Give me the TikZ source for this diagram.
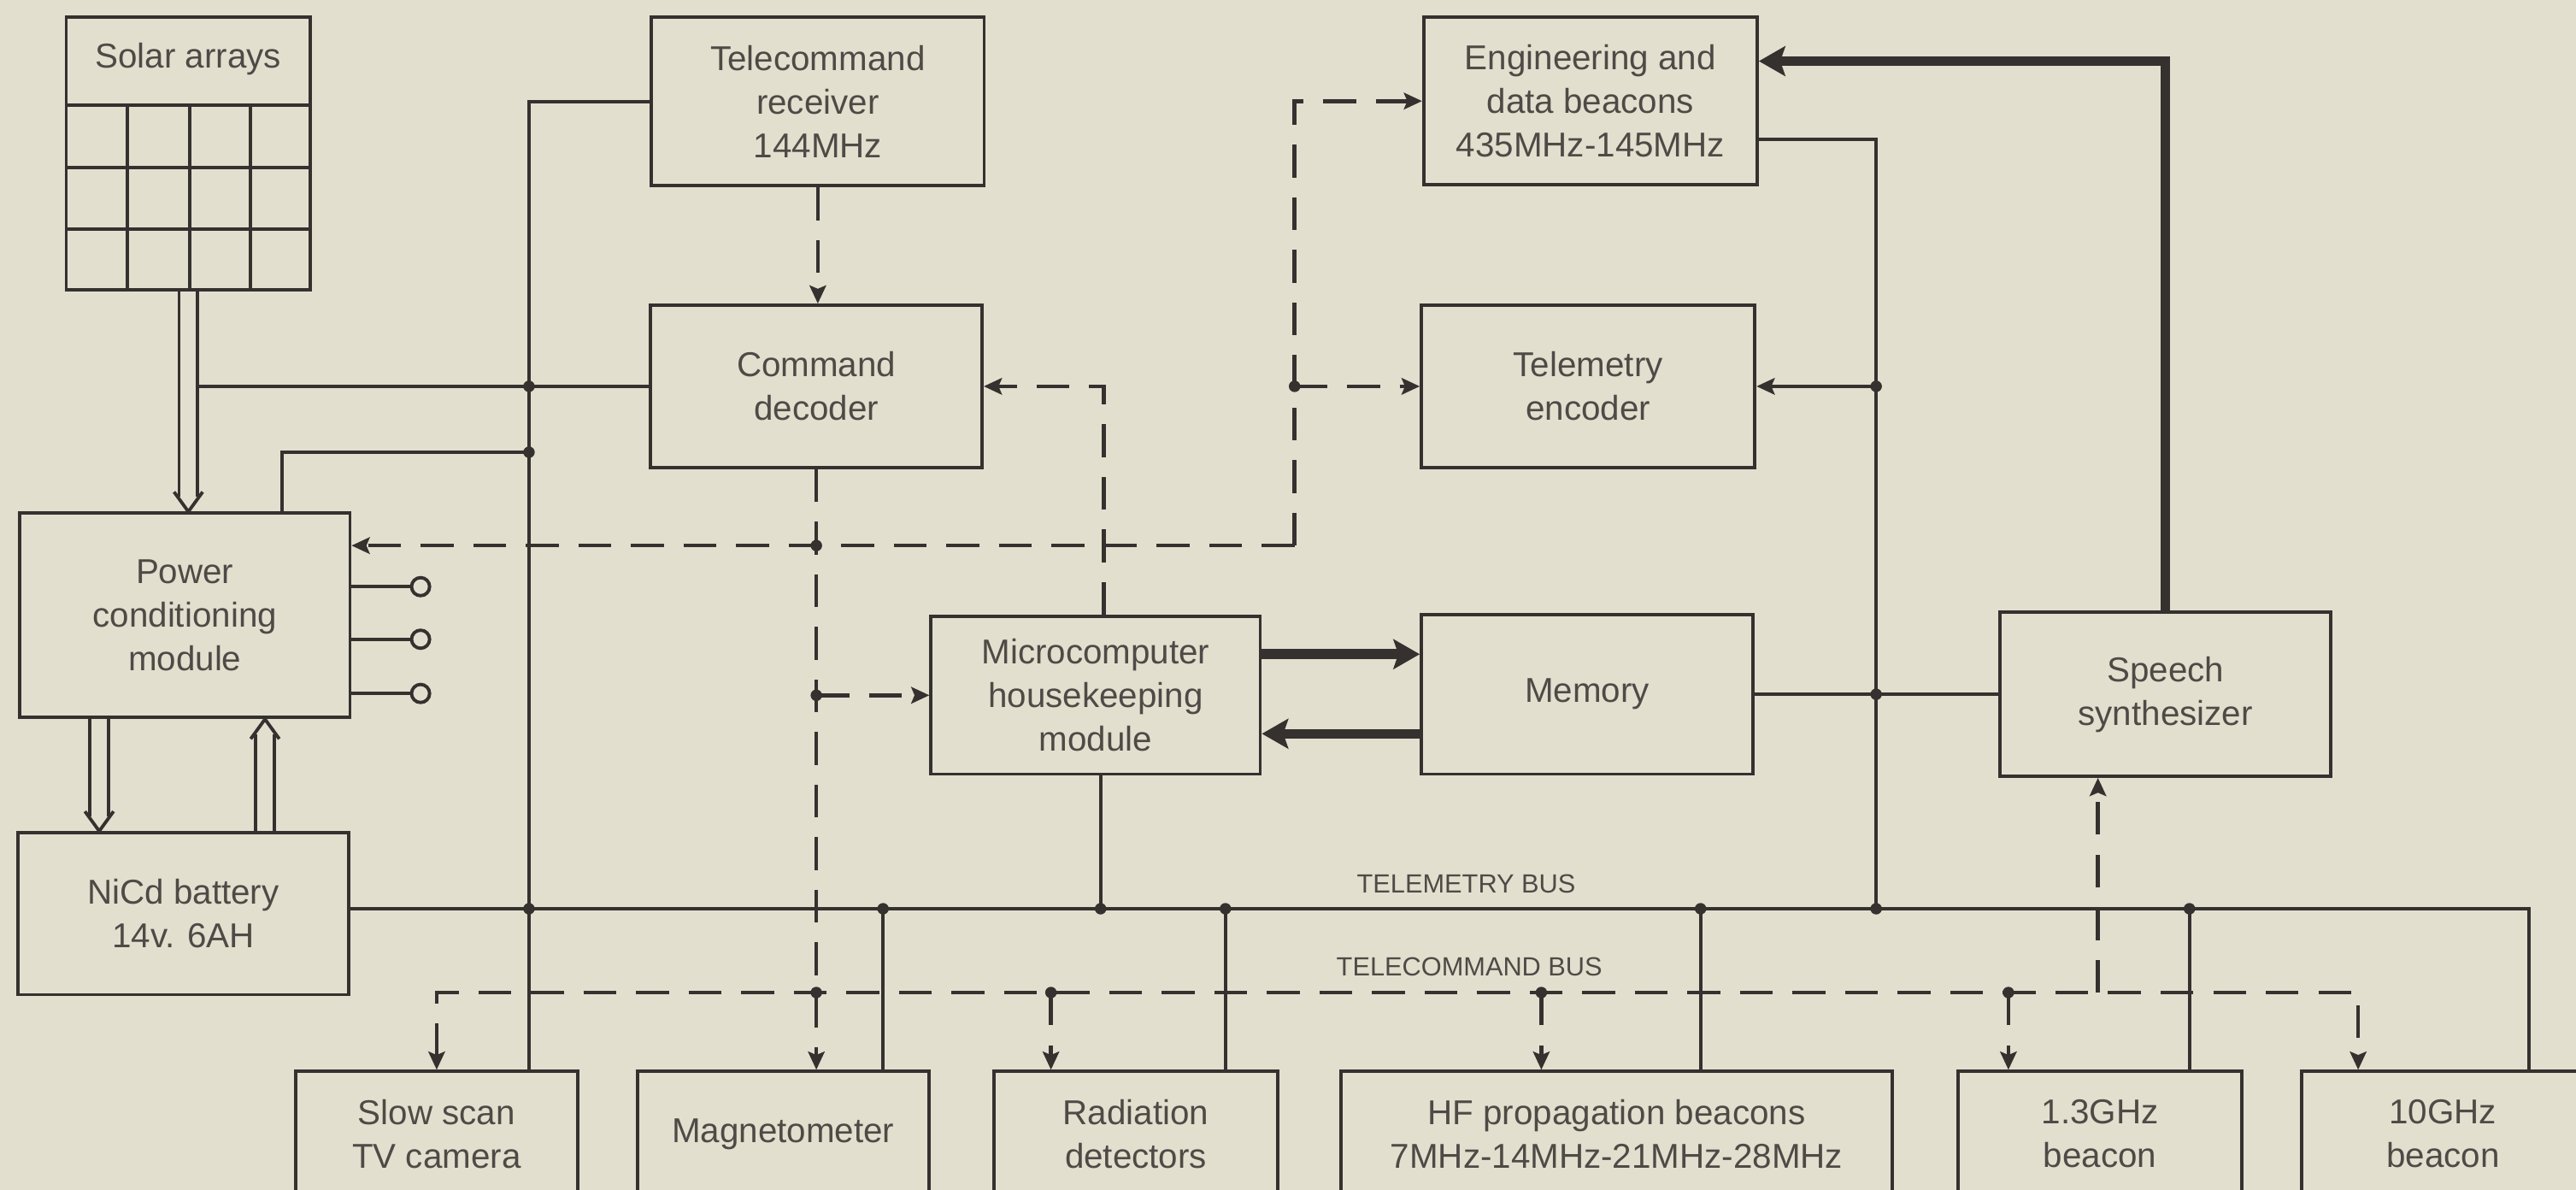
\documentclass[tikz,border=0pt]{standalone}
\usepackage{fontspec}
\setmainfont{Liberation Sans}
\usetikzlibrary{arrows.meta,calc}
\definecolor{bg}{RGB}{227,223,207}
\definecolor{lc}{RGB}{52,49,47}
\definecolor{tc}{RGB}{78,75,70}
\begin{document}
\begin{tikzpicture}[x=1pt,y=-1pt,
  box/.style={draw=lc, line width=2pt, fill=bg, inner sep=0pt, align=center, text=tc,
    font=\fontsize{21}{26.5}\selectfont},
  lowbox/.style={box, minimum height=76pt},
  wire/.style={draw=lc, line width=2.2pt},
  cmd/.style={draw=lc, line width=2.4pt, dash pattern=on 20pt off 12pt},
  heavy/.style={draw=lc, line width=6pt},
  sarrow/.style={-{Stealth[length=11pt,width=10pt,inset=2pt]}},
  harrow/.style={-{Stealth[length=16pt,width=18pt,inset=3pt]}},
  hollowshaft/.style={draw=lc, line width=2pt, double=bg, double distance=9.4pt},
  hollowhead/.style={draw=lc, line width=2pt, line join=round},
  jdot/.style={circle, fill=lc, inner sep=0pt, minimum size=7pt},
  terminal/.style={circle, draw=lc, line width=2pt, fill=bg, inner sep=0pt, minimum size=11pt},
  buslabel/.style={text=tc, font=\fontsize{16}{19}\selectfont}
]
\path[use as bounding box] (0,0) rectangle (1568,724);
\clip (0,0) rectangle (1568,724);
\fill[bg] (0,0) rectangle (1568,724);

% ---------- boxes ----------
\node[box, minimum width=148.7pt, minimum height=166pt] (solar) at (114.65,93.5) {};
\node[text=tc, font=\fontsize{21}{26.5}\selectfont] (solartitle) at (114.65,36) {Solar arrays};
\draw[draw=lc, line width=2pt] (40.3,63.9) -- (189,63.9) (40.3,102) -- (189,102) (40.3,139.3) -- (189,139.3)
  (77.7,63.9) -- (77.7,176.5) (115.5,63.9) -- (115.5,176.5) (152.5,63.9) -- (152.5,176.5);

\node[box, minimum width=201pt, minimum height=124.3pt] (power) at (112.5,374.5) {Power\\conditioning\\module};
\node[box, minimum width=201pt, minimum height=98.5pt] (nicd) at (111.6,556) {NiCd battery\\14v. 6AH};
\node[box, minimum width=202.5pt, minimum height=102.6pt] (receiver) at (497.8,61.8) {Telecommand\\receiver\\144MHz};
\node[box, minimum width=201.8pt, minimum height=98.7pt] (decoder) at (496.9,235.1) {Command\\decoder};
\node[box, minimum width=203pt, minimum height=102pt] (engineering) at (968.1,61.5) {Engineering and\\data beacons\\435MHz-145MHz};
\node[box, minimum width=203pt, minimum height=98.7pt] (encoder) at (966.7,235.1) {Telemetry\\encoder};
\node[box, minimum width=200.4pt, minimum height=96pt] (micro) at (666.9,423.1) {Microcomputer\\housekeeping\\module};
\node[box, minimum width=201.8pt, minimum height=97.2pt] (memory) at (966.1,422.5) {Memory};
\node[box, minimum width=201.5pt, minimum height=99.7pt] (speech) at (1318.1,422.5) {Speech\\synthesizer};

\node[lowbox, minimum width=171.7pt] (slow) at (265.8,690) {Slow scan\\TV camera};
\node[lowbox, minimum width=177.4pt] (magneto) at (476.7,690) {Magnetometer};
\node[lowbox, minimum width=172.5pt] (radiation) at (691.4,690) {Radiation\\detectors};
\node[lowbox, minimum width=335.8pt] (hf) at (984,690) {HF propagation beacons\\7MHz-14MHz-21MHz-28MHz};
\node[lowbox, minimum width=172.4pt] (ghz13) at (1278.2,690) {1.3GHz\\beacon};
\node[lowbox, minimum width=172pt] (ghz10) at (1487,690) {10GHz\\beacon};

\node[buslabel] (tmlabel) at (892.5,538) {TELEMETRY BUS};
\node[buslabel] (tclabel) at (894.4,588.5) {TELECOMMAND BUS};

% ---------- coordinates ----------
\coordinate (V) at (322,0);
\coordinate (sb) at (120.3,0);
\coordinate (j2) at (322,275.2);
\coordinate (B) at (0,553);
\coordinate (busR) at (1539.3,553);
\coordinate (tm) at (537.5,553);
\coordinate (tr) at (745.9,553);
\coordinate (th) at (1035.1,553);
\coordinate (tg) at (1332.7,553);
\coordinate (tv) at (1142,553);
\coordinate (mb) at ($(micro.south)+(3,0)$);
\coordinate (mt) at ($(micro.north)+(5,0)$);
\coordinate (ee) at ($(engineering.east)+(0,23.3)$);
\coordinate (et) at ($(engineering.east)+(0,-24.3)$);
\coordinate (ma) at ($(micro.east)+(0,-25)$);
\coordinate (mm) at ($(memory.west)+(0,24)$);
\coordinate (hc) at (788,332);
\coordinate (cbR) at (1435.4,604);
\coordinate (cr) at (639.7,604);
\coordinate (ch) at (938.2,604);
\coordinate (cg) at (1222.5,604);
\coordinate (cs) at (1277,604);
\coordinate (hd) at (60.4,0);
\coordinate (hu) at (161.3,0);

% ---------- power (hollow) arrows ----------
\coordinate (tipA) at (solar.south |- power.north);
\draw[hollowshaft] (solar.south) -- ($(tipA)+(0,-9)$);
\draw[hollowhead] ($(tipA)+(-8.7,-12)$) -- (tipA) -- ($(tipA)+(8.7,-12)$);
\coordinate (tipB) at (nicd.north -| hd);
\draw[hollowshaft] (power.south -| hd) -- ($(tipB)+(0,-9)$);
\draw[hollowhead] ($(tipB)+(-8.7,-12)$) -- (tipB) -- ($(tipB)+(8.7,-12)$);
\coordinate (tipC) at (power.south -| hu);
\draw[hollowshaft] (nicd.north -| hu) -- ($(tipC)+(0,9)$);
\draw[hollowhead] ($(tipC)+(-8.7,12)$) -- (tipC) -- ($(tipC)+(8.7,12)$);

% ---------- solid wires ----------
\draw[wire] (receiver.west) -| (slow.north -| V);
\draw[wire] (decoder.west -| sb) -- (decoder.west);
\draw[wire] (j2) -| ($(power.north)+(59,0)$);
\node[terminal] (o1) at (256,357) {};
\node[terminal] (o2) at (256,389) {};
\node[terminal] (o3) at (256,422) {};
\draw[wire] (power.east |- o1) -- (o1.west);
\draw[wire] (power.east |- o2) -- (o2.west);
\draw[wire] (power.east |- o3) -- (o3.west);

\draw[wire] (nicd.east |- B) -- (busR) -- (busR |- ghz10.north);
\draw[wire] (tm) -- (tm |- magneto.north);
\draw[wire] (mb) -- (mb |- B);
\draw[wire] (tr) -- (tr |- radiation.north);
\draw[wire] (th) -- (th |- hf.north);
\draw[wire] (tg) -- (tg |- ghz13.north);
\draw[wire] (ee) -| (tv);
\draw[wire, sarrow] (encoder.east -| tv) -- (encoder.east);
\draw[wire] (memory.east) -- (speech.west);

% ---------- heavy data paths ----------
\draw[heavy, harrow] (speech.north) |- (et);
\draw[heavy, harrow] (ma) -- (ma -| memory.west);
\draw[heavy, harrow] (mm) -- (mm -| micro.east);

% ---------- command (dashed) ----------
\draw[cmd, sarrow] (receiver.south) -- (receiver.south |- decoder.north);
\draw[cmd, sarrow] (decoder.south) -- (decoder.south |- magneto.north);
\draw[cmd, sarrow] (hc) -- (hc -| power.east);
\draw[cmd, sarrow] (hc) |- (engineering.west);
\draw[cmd, sarrow] (hc |- encoder.west) -- (encoder.west);
\draw[cmd, sarrow] (mt) |- (decoder.east);
\draw[cmd, sarrow] (decoder.south |- micro.west) -- (micro.west);
\draw[cmd, {Stealth[length=11pt,width=10pt,inset=2pt]}-{Stealth[length=11pt,width=10pt,inset=2pt]}]
  (slow.north) |- (cbR) -- (cbR |- ghz10.north);
\draw[cmd, sarrow] (cr) -- (cr |- radiation.north);
\draw[cmd, sarrow] (ch) -- (ch |- hf.north);
\draw[cmd, sarrow] (cg) -- (cg |- ghz13.north);
\draw[cmd, sarrow] (cs) -- (cs |- speech.south);

% ---------- junction dots ----------
\node[jdot] (d1) at (decoder.west -| V) {};
\node[jdot] (d2) at (j2) {};
\node[jdot] (d3) at (V |- B) {};
\node[jdot] (d4) at (tm) {};
\node[jdot] (d5) at (mb |- B) {};
\node[jdot] (d6) at (tr) {};
\node[jdot] (d7) at (th) {};
\node[jdot] (d8) at (tv) {};
\node[jdot] (d9) at (tg) {};
\node[jdot] (d10) at (encoder.east -| tv) {};
\node[jdot] (d11) at (memory.east -| tv) {};
\node[jdot] (d12) at (decoder.south |- hc) {};
\node[jdot] (d13) at (decoder.south |- micro.west) {};
\node[jdot] (d14) at (decoder.south |- cbR) {};
\node[jdot] (d15) at (hc |- encoder.west) {};
\node[jdot] (d16) at (cr) {};
\node[jdot] (d17) at (ch) {};
\node[jdot] (d18) at (cg) {};
\end{tikzpicture}
\end{document}
